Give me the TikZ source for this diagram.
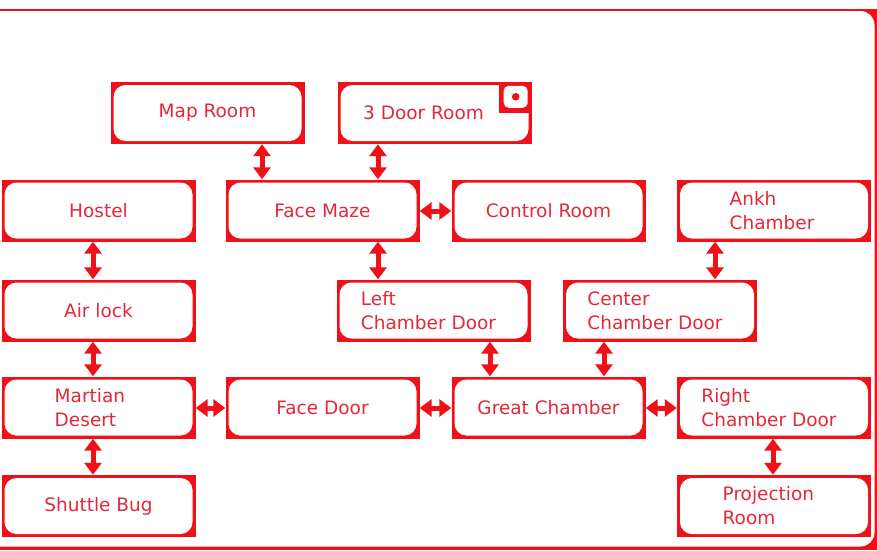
\documentclass[tikz,border=0pt]{standalone}
\usepackage{fontspec}
\setmainfont{DejaVu Sans}
\usetikzlibrary{arrows.meta}
\definecolor{mred}{RGB}{240,16,24}
\definecolor{tred}{RGB}{228,40,58}
\tikzset{
  room/.style={rectangle, inner sep=0pt, minimum width=194pt, minimum height=62pt,
    fill=mred, text=tred, font=\fontsize{18.5}{24}\selectfont, align=left,
    path picture={\fill[white, rounded corners=12pt]
      ([shift={(3pt,3pt)}]path picture bounding box.south west) rectangle
      ([shift={(-3pt,-3pt)}]path picture bounding box.north east);}},
  dbl/.style={mred, line width=5pt,
    {Triangle[width=17pt,length=12pt]}-{Triangle[width=17pt,length=12pt]}}
}
\begin{document}
\begin{tikzpicture}[x=1pt,y=-1pt]
\useasboundingbox (0,0) rectangle (877,550);
% outer frame
\fill[mred] (-30,9) rectangle (877,550);
\fill[white, rounded corners=14pt] (-40,11) rectangle (874.5,546.5);
\fill[white] (0,0) rectangle (877,9);
% rooms
\node[room] (maproom) at (207.5,113) {Map Room};
\node[room] (threedoor) at (434.5,113) {3 Door Room\hspace*{22pt}};
\node[room] (hostel) at (98.5,210.5) {Hostel};
\node[room] (facemaze) at (322.5,210.5) {Face Maze};
\node[room] (control) at (548.5,210.5) {Control Room};
\node[room] (ankh) at (774,210.5) {Ankh\\Chamber\hspace*{4pt}};
\node[room] (airlock) at (98.5,310.5) {Air lock};
\node[room] (leftcd) at (433.5,310.5) {Left\\Chamber Door\hspace*{10pt}};
\node[room] (centercd) at (660,310.5) {Center\\Chamber Door\hspace*{10pt}};
\node[room] (martian) at (98.5,407.5) {Martian\\Desert\hspace*{26pt}};
\node[room] (facedoor) at (322.5,407.5) {Face Door};
\node[room] (great) at (548.5,407.5) {Great Chamber};
\node[room] (rightcd) at (774,407.5) {Right\\Chamber Door\hspace*{10pt}};
\node[room] (shuttle) at (98.5,506) {Shuttle Bug};
\node[room] (projection) at (774,506) {Projection\\Room\hspace*{50pt}};
% icon of 3 Door Room
\fill[mred] ([shift={(-33pt,0pt)}]threedoor.north east) rectangle ([shift={(0pt,-31pt)}]threedoor.north east);
\fill[white, rounded corners=5pt] ([shift={(-28pt,-4pt)}]threedoor.north east) rectangle ([shift={(-4pt,-26pt)}]threedoor.north east);
\fill[mred] ([shift={(-16pt,-15pt)}]threedoor.north east) circle (3.8pt);
% arrow positions
\coordinate (xa) at (262,0);
\coordinate (xb) at (378,0);
\coordinate (xc) at (93,0);
\coordinate (xd) at (715,0);
\coordinate (xe) at (490,0);
\coordinate (xf) at (604,0);
\coordinate (xg) at (773,0);
\coordinate (ya) at (0,211);
\coordinate (yb) at (0,408);
% connectors
\draw[dbl] (maproom.south -| xa) -- (facemaze.north -| xa);
\draw[dbl] (threedoor.south -| xb) -- (facemaze.north -| xb);
\draw[dbl] (facemaze.east |- ya) -- (control.west |- ya);
\draw[dbl] (hostel.south -| xc) -- (airlock.north -| xc);
\draw[dbl] (airlock.south -| xc) -- (martian.north -| xc);
\draw[dbl] (martian.south -| xc) -- (shuttle.north -| xc);
\draw[dbl] (facemaze.south -| xb) -- (leftcd.north -| xb);
\draw[dbl] (ankh.south -| xd) -- (centercd.north -| xd);
\draw[dbl] (leftcd.south -| xe) -- (great.north -| xe);
\draw[dbl] (centercd.south -| xf) -- (great.north -| xf);
\draw[dbl] (martian.east |- yb) -- (facedoor.west |- yb);
\draw[dbl] (facedoor.east |- yb) -- (great.west |- yb);
\draw[dbl] (great.east |- yb) -- (rightcd.west |- yb);
\draw[dbl] (rightcd.south -| xg) -- (projection.north -| xg);
\end{tikzpicture}
\end{document}
